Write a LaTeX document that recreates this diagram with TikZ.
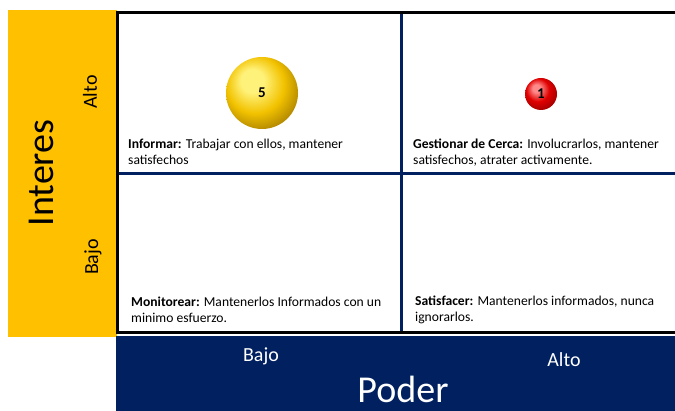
\documentclass[tikz,border=0pt]{standalone}
\usepackage{fontspec}
\setmainfont{Carlito}
\definecolor{gold}{HTML}{FFC000}
\definecolor{navy}{HTML}{002060}
\definecolor{goldhi}{HTML}{FFF27A}
\definecolor{goldmid}{HTML}{F2C200}
\definecolor{golddark}{HTML}{8A6400}
\definecolor{redhi}{HTML}{FF8A8A}
\definecolor{redmid}{HTML}{E00000}
\definecolor{reddark}{HTML}{6A0000}
\pgfdeclareradialshading{goldball}{\pgfqpoint{-8bp}{10bp}}{%
  color(0bp)=(goldhi); color(8bp)=(goldhi); color(20bp)=(goldmid);
  color(30bp)=(golddark!60!goldmid); color(50bp)=(golddark)}
\pgfdeclareradialshading{redball}{\pgfqpoint{-8bp}{10bp}}{%
  color(0bp)=(redhi); color(6bp)=(redhi); color(18bp)=(redmid);
  color(30bp)=(reddark!50!redmid); color(50bp)=(reddark)}
\begin{document}
\begin{tikzpicture}[x=1pt,y=-1pt,
  body/.style={anchor=north west,inner sep=0pt,align=left,font=\fontsize{13.6}{16.2}\selectfont},
  axis/.style={inner sep=0pt,font=\fontsize{20}{24}\selectfont},
  big/.style={inner sep=0pt,font=\fontsize{38}{44}\selectfont},
  ballnum/.style={circle,inner sep=0pt,font=\fontsize{15}{17}\selectfont\bfseries},
  divider/.style={navy,line width=3pt},
  frame/.style={black,line width=3pt}]
\useasboundingbox (0,0) rectangle (675,411);
\fill[white] (0,0) rectangle (675,411);
% side bars
\fill[gold] (8,10) rectangle (117,337);
\fill[navy] (116,336) rectangle (675,411);
% main box
\fill[white] (117,13) rectangle (675,333);
\draw[divider] (118,173.5) -- (675,173.5);
\draw[divider] (401.5,14) -- (401.5,333);
\draw[frame] (675,13) -- (117,13) -- (117,333) -- (675,333);
% balls
\node[ballnum,shading=goldball,minimum size=72pt] (b5) at (262,93) {5};
\node[ballnum,shading=redball,minimum size=32pt] (b1) at (541,94) {1};
% quadrant texts
\node[body] (t1) at (128,139) {\textbf{Informar:} Trabajar con ellos, mantener\\satisfechos};
\node[body] (t2) at (413,139) {\textbf{Gestionar de Cerca:} Involucrarlos, mantener\\satisfechos, atrater activamente.};
\node[body] (t3) at (131,297) {\textbf{Monitorear:} Mantenerlos Informados con un\\minimo esfuerzo.};
\node[body] (t4) at (415,296) {\textbf{Satisfacer:} Mantenerlos informados, nunca\\ignorarlos.};
% axis labels
\node[big,rotate=90] (interes) at (41,173) {Interes};
\node[axis,rotate=90] (ialto) at (90,92) {Alto};
\node[axis,rotate=90] (ibajo) at (93,257) {Bajo};
\node[axis,text=white] (pbajo) at (261,356) {Bajo};
\node[axis,text=white] (palto) at (564,360) {Alto};
\node[big,text=white] (poder) at (403,389) {Poder};
\end{tikzpicture}
\end{document}
